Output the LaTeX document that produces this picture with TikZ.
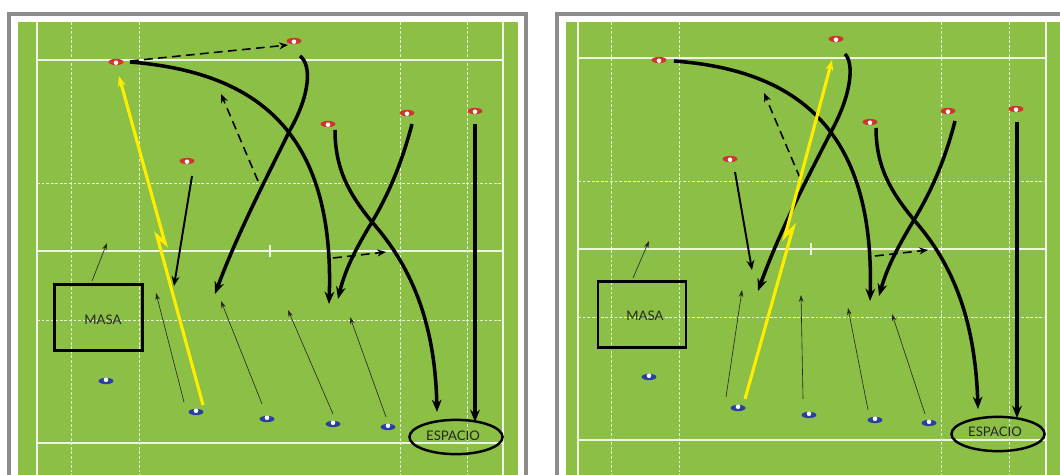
\documentclass[tikz,border=0pt]{standalone}
\usepackage{fontspec}
\setmainfont{Lato}
\usetikzlibrary{shapes.geometric, arrows.meta, positioning}
\definecolor{pitch}{RGB}{139,191,69}
\definecolor{conered}{RGB}{208,52,44}
\definecolor{coneblue}{RGB}{42,64,160}

\begin{document}
\begin{tikzpicture}[
    x=0.02cm, y=-0.02cm,
    panel/.style = {draw=black!45, line width=2pt, fill=white},
    field/.style = {fill=pitch, draw=none},
    solidline/.style = {draw=white!85!pitch, line width=0.6pt},
    dashline/.style = {draw=white!80!pitch, line width=0.5pt, dash pattern=on 1.6pt off 1pt},
    redcone/.style = {ellipse, fill=conered, inner sep=0pt, minimum width=8.5pt, minimum height=3.6pt},
    bluecone/.style = {ellipse, fill=coneblue, inner sep=0pt, minimum width=8.5pt, minimum height=3.6pt},
    conedot/.style = {circle, fill=white, inner sep=0pt, minimum size=2.6pt},
    run/.style = {draw=black, line width=2pt, -{Stealth[length=7pt,width=5.5pt]}},
    slimrun/.style = {draw=black, line width=1.1pt, -{Stealth[length=5.5pt,width=4.5pt]}},
    pass/.style = {draw=black, line width=0.9pt, dash pattern=on 5pt off 3pt, -{Stealth[length=5pt,width=4pt]}},
    support/.style = {draw=black!85, line width=0.35pt, -{Stealth[length=4pt,width=2.6pt]}},
    ballrun/.style = {draw=yellow!95!orange, line width=1.8pt, -{Stealth[length=6pt,width=4.5pt]}},
    zonebox/.style = {rectangle, draw=black, line width=1.4pt, minimum width=50pt, minimum height=37.5pt, inner sep=0pt},
    zoneoval/.style = {ellipse, draw=black, line width=1.4pt, minimum width=53pt, minimum height=19.5pt, inner sep=0pt},
    zonetext/.style = {inner sep=0pt, font=\fontsize{7.5}{9}\selectfont, text=black!85}
]
\useasboundingbox (0,0) rectangle (1060,475);

% Frames and grass
\fill [white] (0,0) rectangle (1060,475);
\draw [panel] (9,14) rectangle (526,485);
\draw [panel] (557,14) rectangle (1075,485);
\fill [field] (18,22) rectangle (518,475);
\fill [field] (566,22) rectangle (1060,475);

% Left pitch lines
\foreach \x in {37,503} \draw [solidline] (\x,22) -- (\x,475);
\foreach \x in {71,139,400,467} \draw [dashline] (\x,22) -- (\x,475);
\foreach \y in {60,251,443} \draw [solidline] (37,\y) -- (503,\y);
\foreach \y in {183,320} \draw [dashline] (37,\y) -- (503,\y);
\draw [solidline] (270,245) -- (270,257);

% Right pitch lines
\foreach \x in {578,1046} \draw [solidline] (\x,22) -- (\x,475);
\foreach \x in {611,679,941,1009} \draw [dashline] (\x,22) -- (\x,475);
\foreach \y in {58,249,440} \draw [solidline] (578,\y) -- (1046,\y);
\foreach \y in {181,317} \draw [dashline] (578,\y) -- (1046,\y);
\draw [solidline] (811,243) -- (811,255);

% Left cones
\node (redA) [redcone] at (116,62) {};
\node (redB) [redcone] at (294,41) {};
\node (redC) [redcone] at (328,124) {};
\node (redD) [redcone] at (407,113) {};
\node (redE) [redcone] at (475,111) {};
\node (redF) [redcone] at (187,161) {};
\node (blueA) [bluecone] at (106,381) {};
\node (blueB) [bluecone] at (196,412) {};
\node (blueC) [bluecone] at (267,419) {};
\node (blueD) [bluecone] at (333,424) {};
\node (blueE) [bluecone] at (388,427) {};

% Right cones
\node (redG) [redcone] at (659,60) {};
\node (redH) [redcone] at (836,39) {};
\node (redI) [redcone] at (870,122) {};
\node (redJ) [redcone] at (948,111) {};
\node (redK) [redcone] at (1016,109) {};
\node (redL) [redcone] at (730,159) {};
\node (blueF) [bluecone] at (649,377) {};
\node (blueG) [bluecone] at (738,408) {};
\node (blueH) [bluecone] at (809,415) {};
\node (blueI) [bluecone] at (875,420) {};
\node (blueJ) [bluecone] at (929,423) {};

\foreach \c in {redA,redB,redC,redD,redE,redF,redG,redH,redI,redJ,redK,redL}
    \node [conedot, yshift=-0.4pt] at (\c) {};
\foreach \c in {blueA,blueB,blueC,blueD,blueE,blueF,blueG,blueH,blueI,blueJ}
    \node [conedot, yshift=0.7pt] at (\c) {};

% Zones
\node (masaL) [zonebox] at (98.5,317.5) {};
\node (espacioL) [zoneoval] at (456,437) {};
\node (masaR) [zonebox] at (642,314.5) {};
\node (espacioR) [zoneoval] at (998,434) {};
\node (masaLtext) [zonetext] at (103,320) {MASA};
\node (espacioLtext) [zonetext] at (453,436) {ESPACIO};
\node (masaRtext) [zonetext] at (645,316) {MASA};
\node (espacioRtext) [zonetext] at (995,432) {ESPACIO};

% Left run ends
\coordinate (startA) at (130,62);
\coordinate (endA) at (329,304);
\coordinate (startB) at (300,56);
\coordinate (crossB) at (290,130);
\coordinate (endB) at (215,294);
\coordinate (startC) at (335,130);
\coordinate (crossC) at (372,222);
\coordinate (endC) at (437,412);
\coordinate (startD) at (412,124);
\coordinate (endD) at (338,299);
\coordinate (startE) at (475,124);
\coordinate (endE) at (475,422);
\coordinate (startF) at (192,176);
\coordinate (endF) at (174,286);
\coordinate (passA) at (130,61);
\coordinate (passAend) at (288,45);
\coordinate (passB) at (258,181);
\coordinate (passBend) at (221,94);
\coordinate (passC) at (333,258);
\coordinate (passCend) at (386,252);
\coordinate (ballA) at (203,405);
\coordinate (ballAkink) at (157,236);
\coordinate (ballAback) at (165,243);
\coordinate (ballAend) at (119,76);
\coordinate (masaFoot) at (92,281);
\coordinate (masaTip) at (107,243);
\coordinate (supA) at (184,402);
\coordinate (supAend) at (156,293);
\coordinate (supB) at (262,404);
\coordinate (supBend) at (221,301);
\coordinate (supC) at (333,414);
\coordinate (supCend) at (288,310);
\coordinate (supD) at (386,417);
\coordinate (supDend) at (350,317);

% Left runs
\draw [ballrun] (ballA) -- (ballAkink) -- (ballAback) -- (ballAend);
\draw [run] (startA) .. controls (255,72) and (335,130) .. (endA);
\draw [run] (startB) .. controls (312,65) and (310,95) .. (crossB) .. controls (268,175) and (238,232) .. (endB);
\draw [run] (startC) .. controls (335,170) and (350,195) .. (crossC) .. controls (410,265) and (435,320) .. (endC);
\draw [run] (startD) .. controls (400,170) and (385,200) .. (crossC) .. controls (355,250) and (345,270) .. (endD);
\draw [run] (startE) -- (endE);
\draw [slimrun] (startF) -- (endF);
\draw [pass] (passA) -- (passAend);
\draw [pass] (passB) -- (passBend);
\draw [pass] (passC) -- (passCend);
\draw [support] (masaFoot) -- (masaTip);
\draw [support] (supA) -- (supAend);
\draw [support] (supB) -- (supBend);
\draw [support] (supC) -- (supCend);
\draw [support] (supD) -- (supDend);

% Right run ends
\coordinate (startG) at (674,61);
\coordinate (endG) at (870,301);
\coordinate (startH) at (845,54);
\coordinate (crossH) at (832,130);
\coordinate (endH) at (758,291);
\coordinate (startI) at (876,128);
\coordinate (crossI) at (914,220);
\coordinate (endI) at (978,409);
\coordinate (startJ) at (955,121);
\coordinate (endJ) at (879,296);
\coordinate (startK) at (1017,122);
\coordinate (endK) at (1017,418);
\coordinate (startL) at (735,172);
\coordinate (endL) at (752,270);
\coordinate (passD) at (800,178);
\coordinate (passDend) at (764,93);
\coordinate (passE) at (875,256);
\coordinate (passEend) at (928,250);
\coordinate (ballB) at (745,399);
\coordinate (ballBkink) at (793,228);
\coordinate (ballBback) at (785,236);
\coordinate (ballBend) at (832,60);
\coordinate (masaFootR) at (633,278);
\coordinate (masaTipR) at (649,241);
\coordinate (supE) at (726,397);
\coordinate (supEend) at (742,290);
\coordinate (supF) at (803,399);
\coordinate (supFend) at (801,295);
\coordinate (supG) at (868,410);
\coordinate (supGend) at (848,308);
\coordinate (supH) at (925,414);
\coordinate (supHend) at (892,314);

% Right runs
\draw [run] (startG) .. controls (795,70) and (875,128) .. (endG);
\draw [run] (startH) .. controls (854,63) and (852,93) .. (crossH) .. controls (810,173) and (780,230) .. (endH);
\draw [run] (startI) .. controls (876,168) and (892,193) .. (crossI) .. controls (952,263) and (975,318) .. (endI);
\draw [run] (startJ) .. controls (943,168) and (927,198) .. (crossI) .. controls (897,248) and (887,268) .. (endJ);
\draw [run] (startK) -- (endK);
\draw [slimrun] (startL) -- (endL);
\draw [pass] (passD) -- (passDend);
\draw [pass] (passE) -- (passEend);
\draw [ballrun] (ballB) -- (ballBkink) -- (ballBback) -- (ballBend);
\draw [support] (masaFootR) -- (masaTipR);
\draw [support] (supE) -- (supEend);
\draw [support] (supF) -- (supFend);
\draw [support] (supG) -- (supGend);
\draw [support] (supH) -- (supHend);

\end{tikzpicture}
\end{document}
